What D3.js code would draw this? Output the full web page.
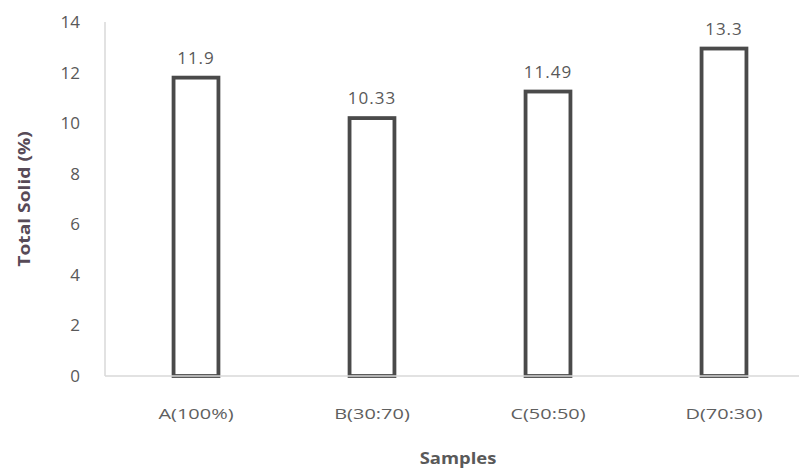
<!DOCTYPE html>
<html>
<head>
<meta charset="utf-8">
<script src="https://cdn.jsdelivr.net/npm/d3@7/dist/d3.min.js"></script>
<style>
  html, body { margin: 0; padding: 0; background: #fff; }
  svg { display: block; }
</style>
</head>
<body>
<svg id="chart" width="799" height="471"></svg>
<script>
const categories = ["A(100%)", "B(30:70)", "C(50:50)", "D(70:30)"];
// bar heights as drawn in the picture
const values = [11.8, 10.2, 11.25, 12.95];
// data labels as printed above the bars
const valueLabels = ["11.9", "10.33", "11.49", "13.3"];
const yTicks = [0, 2, 4, 6, 8, 10, 12, 14];
const xTitle = "Samples";
const yTitle = "Total Solid (%)";

(function () {
const svg = d3.select("#chart");
const font = "'Open Sans', 'Liberation Sans', sans-serif";
const plotLeft = 108, plotRight = 812, plotTop = 22, plotBottom = 376;

const x = d3.scaleBand().domain(categories).range([plotLeft, plotRight]).paddingInner(0.745).paddingOuter(0.3725);
const y = d3.scaleLinear().domain([0, 14]).range([plotBottom, plotTop]);

function stretch(sel, factor) {
  sel.each(function () {
    const len = this.getComputedTextLength();
    d3.select(this).attr("textLength", len * factor).attr("lengthAdjust", "spacingAndGlyphs");
  });
}

// y axis line
svg.append("line")
  .attr("x1", 105).attr("x2", 105)
  .attr("y1", y(14)).attr("y2", y(0))
  .attr("stroke", "#d9d9d9").attr("stroke-width", 1.5);

// y tick labels
const yAxis = d3.axisLeft(y).tickValues(yTicks).tickSize(0).tickPadding(0);
const gy = svg.append("g").attr("transform", "translate(80,0)").call(yAxis);
gy.select(".domain").remove();
gy.selectAll("text")
  .attr("font-family", font).attr("font-size", 17).attr("fill", "#595959");

// bars
svg.append("g").selectAll("rect")
  .data(values)
  .join("rect")
  .attr("x", (d, i) => x(categories[i]))
  .attr("y", d => y(d))
  .attr("width", x.bandwidth())
  .attr("height", d => y(0) - y(d))
  .attr("fill", "#ffffff")
  .attr("stroke", "#4a4a4a")
  .attr("stroke-width", 3.8);

// x axis line
svg.append("line")
  .attr("x1", 105).attr("x2", 799)
  .attr("y1", y(0)).attr("y2", y(0))
  .attr("stroke", "#d9d9d9").attr("stroke-width", 1.5);

// value labels
svg.append("g").selectAll("text")
  .data(values)
  .join("text")
  .attr("x", (d, i) => x(categories[i]) + x.bandwidth() / 2)
  .attr("y", d => y(d) - 14)
  .attr("text-anchor", "middle")
  .attr("font-family", font).attr("font-size", 17).attr("fill", "#595959")
  .attr("letter-spacing", 1)
  .text((d, i) => valueLabels[i]);

// x tick labels
const xAxis = d3.axisBottom(x).tickSize(0).tickPadding(0);
const gx = svg.append("g").attr("transform", "translate(0,419)").call(xAxis);
gx.select(".domain").remove();
gx.selectAll("text")
  .attr("y", 0).attr("dy", 0)
  .attr("font-family", font).attr("font-size", 15).attr("fill", "#5f5f5f");
stretch(gx.selectAll("text"), 1.33);

// axis titles
const xt = svg.append("text")
  .attr("x", 458).attr("y", 464)
  .attr("text-anchor", "middle")
  .attr("font-family", font).attr("font-size", 16).attr("font-weight", "bold")
  .attr("fill", "#595959")
  .text(xTitle);
stretch(xt, 1.15);

const yt = svg.append("text")
  .attr("transform", "translate(30,199) rotate(-90)")
  .attr("text-anchor", "middle")
  .attr("font-family", font).attr("font-size", 16).attr("font-weight", "bold")
  .attr("fill", "#574a57")
  .text(yTitle);
stretch(yt, 1.2);
})();
</script>
</body>
</html>
